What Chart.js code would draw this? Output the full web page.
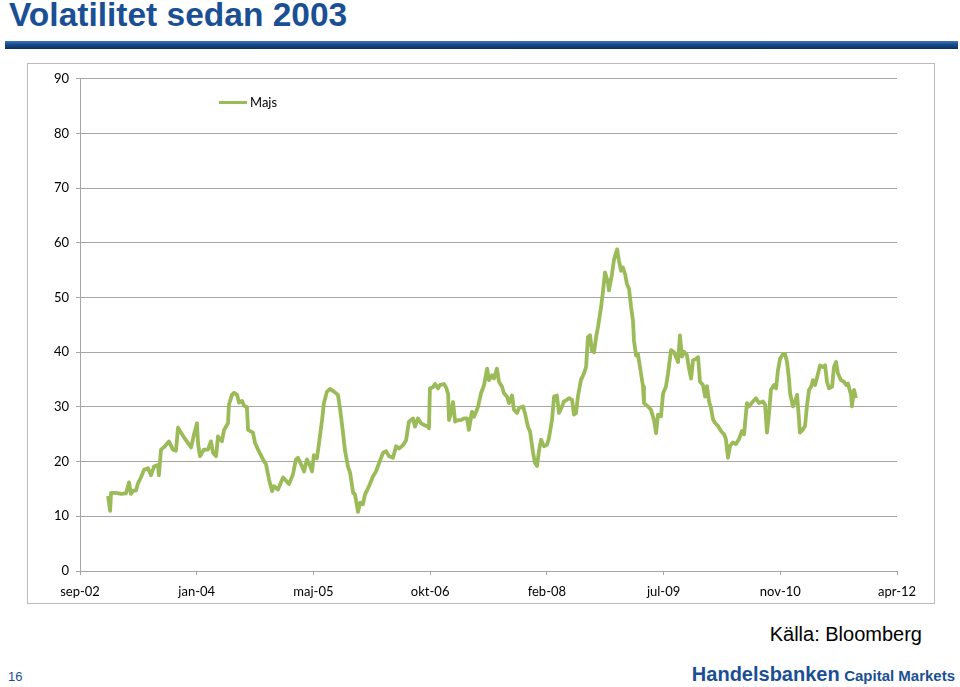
<!DOCTYPE html>
<html>
<head>
<meta charset="utf-8">
<script src="https://cdn.jsdelivr.net/npm/chart.js@4.4.0/dist/chart.umd.min.js"></script>
<style>
    body { margin: 0; background: #fff; width: 960px; height: 687px; position: relative; overflow: hidden; font-family: 'Liberation Sans', Arial, sans-serif; }
    #title { position: absolute; left: 9px; top: -4px; font-size: 33.5px; font-weight: bold; color: #1b4f94; white-space: nowrap; }
    #bar { position: absolute; left: 5px; top: 41px; width: 953px; height: 8px; background: linear-gradient(#3f76b8, #174a8a 45%, #0b2f5e); }
    #box { position: absolute; left: 27px; top: 63px; width: 906px; height: 539px; border: 1px solid #bcbcbc; }
    #box canvas { position: absolute; left: 0; top: 0; }
    #legend { position: absolute; left: 219px; top: 94px; font-family: Lato, sans-serif; font-size: 13px; color: #000; display: flex; align-items: center; }
    #legend span.line { display: inline-block; width: 28px; height: 3px; background: #9bbb59; margin-right: 3px; }
    #source { position: absolute; right: 38px; top: 623px; font-size: 20px; color: #000; }
    #page { position: absolute; left: 8px; top: 669px; font-size: 13px; color: #1b4f94; }
    #logo { position: absolute; right: 5px; top: 663px; color: #1b4f94; font-weight: bold; white-space: nowrap; }
    #logo .big { font-size: 20px; }
    #logo .small { font-size: 15px; }
</style>
</head>
<body>
<div id="title">Volatilitet sedan 2003</div>
<div id="bar"></div>
<div id="box"><canvas id="volChart" width="906" height="539"></canvas></div>
<div id="legend"><span class="line"></span>Majs</div>
<div id="source">Källa: Bloomberg</div>
<div id="page">16</div>
<div id="logo"><span class="big">Handelsbanken</span> <span class="small">Capital Markets</span></div>

<script>
// Axis tick labels (one every 500 days from sep-02)
const tickLabels = ['sep-02', 'jan-04', 'maj-05', 'okt-06', 'feb-08', 'jul-09', 'nov-10', 'apr-12'];
const tickStepDays = 500;
const yTicks = [0, 10, 20, 30, 40, 50, 60, 70, 80, 90];

// Days since sep-02 for each reading
const days = [
    120, 129, 133, 154, 176, 197, 210, 218, 227, 240, 248, 261, 274, 291, 304, 317, 334, 338, 347, 364,
    381, 398, 411, 420, 433, 446, 463, 476, 488, 501, 506, 514, 531, 548, 561, 570, 583, 591, 608, 617,
    634, 638, 651, 660, 673, 681, 694, 703, 715, 720, 741, 750, 763, 784, 797, 810, 823, 831, 848, 870,
    883, 895, 912, 925, 934, 947, 960, 972, 985, 994, 1002, 1015, 1024, 1037, 1045, 1058, 1071, 1088, 1105, 1114,
    1127, 1135, 1148, 1157, 1170, 1178, 1191, 1200, 1212, 1221, 1238, 1255, 1268, 1281, 1298, 1311, 1324, 1341, 1354, 1367,
    1384, 1397, 1409, 1427, 1435, 1448, 1461, 1474, 1491, 1495, 1499, 1512, 1521, 1534, 1542, 1559, 1568, 1577, 1581, 1594,
    1598, 1607, 1619, 1632, 1645, 1658, 1666, 1679, 1688, 1705, 1718, 1731, 1744, 1752, 1765, 1774, 1786, 1795, 1808, 1816,
    1829, 1838, 1851, 1859, 1872, 1881, 1898, 1906, 1919, 1928, 1941, 1949, 1958, 1966, 1975, 1988, 2001, 2009, 2022, 2031,
    2043, 2052, 2065, 2073, 2086, 2095, 2108, 2116, 2125, 2133, 2146, 2159, 2168, 2176, 2185, 2193, 2202, 2211, 2219, 2232,
    2241, 2249, 2262, 2266, 2279, 2288, 2301, 2309, 2318, 2326, 2335, 2343, 2352, 2361, 2369, 2373, 2382, 2390, 2399, 2412,
    2416, 2433, 2446, 2459, 2468, 2476, 2489, 2498, 2510, 2519, 2532, 2545, 2562, 2570, 2579, 2588, 2600, 2609, 2618, 2626,
    2639, 2648, 2656, 2669, 2678, 2686, 2695, 2703, 2712, 2720, 2733, 2746, 2759, 2767, 2776, 2785, 2797, 2810, 2823, 2836,
    2845, 2857, 2866, 2883, 2896, 2909, 2926, 2935, 2943, 2952, 2960, 2973, 2982, 2990, 2999, 3012, 3020, 3029, 3037, 3042,
    3054, 3063, 3072, 3080, 3084, 3097, 3106, 3114, 3123, 3132, 3140, 3149, 3162, 3170, 3183, 3192, 3200, 3209, 3222, 3230,
    3239, 3247, 3260, 3273, 3282, 3290, 3303, 3307, 3316, 3324
];

// Majs volatility readings
const majs = [
    13.7, 11.0, 14.3, 14.3, 14.1, 14.2, 16.2, 14.1, 14.7, 14.7, 16.0, 17.1, 18.5, 18.8, 17.5, 19.1, 19.4, 17.5, 22.2, 22.8,
    23.7, 22.2, 22.0, 26.2, 25.3, 24.4, 23.4, 22.6, 24.9, 27.0, 23.2, 21.0, 22.2, 22.2, 23.7, 21.6, 21.0, 24.6, 23.7, 25.8,
    27.0, 30.4, 32.2, 32.6, 32.2, 30.8, 31.1, 30.2, 30.0, 25.8, 25.3, 23.4, 22.2, 20.4, 19.5, 16.7, 14.6, 15.5, 14.9, 17.1,
    16.5, 15.9, 17.6, 20.4, 20.7, 19.5, 18.2, 20.4, 19.3, 18.2, 21.2, 20.6, 23.4, 27.6, 30.7, 32.8, 33.3, 32.8, 32.2, 29.7,
    25.2, 22.1, 19.1, 18.0, 14.3, 14.0, 10.8, 12.5, 12.2, 14.0, 15.5, 17.3, 18.2, 19.7, 21.6, 21.9, 21.0, 20.7, 22.8, 22.4,
    23.0, 23.9, 27.3, 27.9, 26.4, 27.9, 27.0, 26.7, 26.4, 26.1, 33.4, 33.6, 34.2, 33.4, 34.0, 34.2, 33.6, 32.4, 27.6, 29.8,
    30.9, 27.3, 27.6, 27.6, 27.9, 27.9, 25.8, 29.1, 28.2, 30.0, 32.5, 34.0, 37.0, 34.9, 35.8, 35.2, 37.0, 34.6, 33.7, 32.5,
    31.9, 30.7, 32.1, 29.5, 28.9, 29.8, 30.1, 28.9, 26.4, 25.5, 21.6, 19.8, 19.2, 21.9, 24.0, 22.8, 23.1, 24.3, 27.6, 31.9,
    32.1, 28.9, 30.1, 31.0, 31.3, 31.6, 31.3, 28.6, 28.9, 31.9, 34.9, 36.1, 37.3, 42.8, 43.1, 40.3, 40.0, 42.8, 44.6, 48.2,
    51.3, 54.6, 52.7, 51.3, 54.3, 57.0, 58.8, 56.7, 54.9, 55.5, 54.3, 52.5, 51.6, 48.2, 45.8, 42.2, 39.4, 39.7, 37.3, 33.7,
    30.7, 30.1, 29.5, 27.6, 25.2, 28.6, 28.3, 32.5, 33.7, 36.1, 40.4, 40.0, 38.2, 43.1, 39.2, 40.1, 39.5, 37.0, 35.2, 38.5,
    38.8, 39.1, 34.6, 34.0, 31.9, 33.8, 31.0, 29.8, 27.7, 27.1, 26.5, 25.6, 25.0, 24.1, 20.7, 22.9, 23.5, 23.2, 24.1, 25.6,
    25.0, 30.7, 30.1, 31.0, 31.6, 30.7, 31.0, 30.4, 25.3, 28.9, 33.1, 34.0, 33.4, 36.7, 38.8, 39.7, 39.7, 38.2, 35.2, 32.5,
    30.1, 31.0, 32.2, 27.7, 25.3, 25.9, 26.5, 30.1, 33.1, 33.7, 34.9, 34.0, 36.1, 37.6, 37.3, 37.6, 34.6, 33.4, 33.7, 37.3,
    38.2, 36.1, 34.9, 34.6, 34.0, 34.3, 32.2, 30.1, 33.1, 31.6
];

const gridColor = '#a6a6a6';
const lineColor = '#9bbb59';

// Build the chart
const ctx = document.getElementById('volChart').getContext('2d');
const chart = new Chart(ctx, {
    type: 'line',
    data: {
        datasets: [{
            label: 'Majs',
            data: days.map((d, i) => ({ x: d, y: majs[i] })),
            borderColor: lineColor,
            borderWidth: 3.8,
            pointRadius: 0,
            tension: 0,
            borderJoinStyle: 'round',
            fill: false
        }]
    },
    options: {
        responsive: false,
        animation: false,
        layout: { padding: { left: 0, right: 37, top: 14, bottom: 0 } },
        plugins: {
            legend: { display: false },
            tooltip: { enabled: false }
        },
        scales: {
            x: {
                type: 'linear',
                min: 0,
                max: tickStepDays * (tickLabels.length - 1),
                afterBuildTicks: function(scale) {
                    scale.ticks = tickLabels.map((l, i) => ({ value: i * tickStepDays }));
                },
                afterFit: function(scale) { scale.height = 32; },
                ticks: {
                    autoSkip: false,
                    maxRotation: 0,
                    padding: 9,
                    color: '#000',
                    font: { family: 'Lato', size: 13 },
                    callback: function(value) { return tickLabels[Math.round(value / tickStepDays)]; }
                },
                grid: { drawOnChartArea: false, tickLength: 4, color: gridColor },
                border: { color: gridColor }
            },
            y: {
                min: 0,
                max: 90,
                afterBuildTicks: function(scale) {
                    scale.ticks = yTicks.map(v => ({ value: v }));
                },
                afterFit: function(scale) { scale.width = 52; },
                ticks: {
                    padding: 7,
                    color: '#000',
                    font: { family: 'Lato', size: 13 }
                },
                grid: { color: gridColor, tickLength: 4 },
                border: { color: gridColor }
            }
        }
    }
});
</script>
</body>
</html>
